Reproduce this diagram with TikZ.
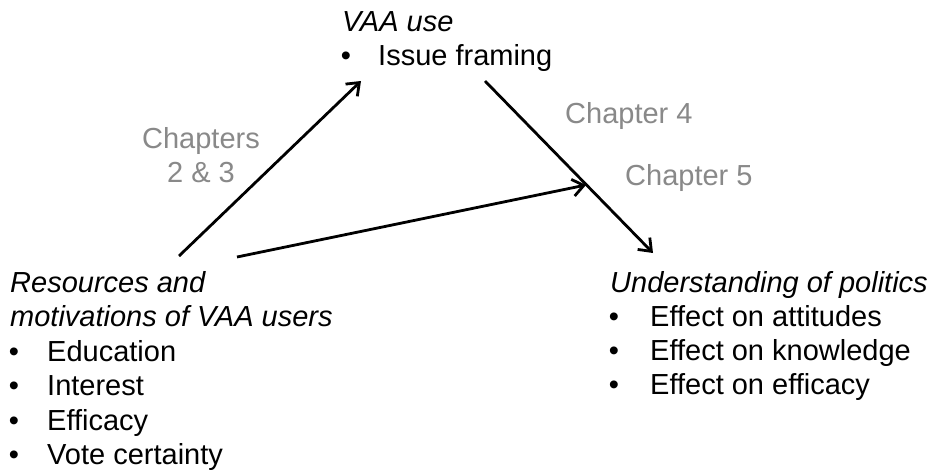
\documentclass[tikz,border=0pt]{standalone}
\usepackage{fontspec}
\setmainfont{Liberation Sans}
\usetikzlibrary{arrows.meta}
\definecolor{chapgray}{RGB}{137,137,137}
\begin{document}
\begin{tikzpicture}[x=1pt,y=-1pt,
  txt/.style={anchor=base west, inner sep=0pt, font=\fontsize{29}{34}\selectfont},
  head/.style={txt, font=\fontsize{29}{34}\selectfont\itshape},
  bul/.style={anchor=base, inner sep=0pt, font=\fontsize{29}{34}\selectfont},
  chap/.style={inner sep=0pt, font=\fontsize{29}{34}\selectfont, text=chapgray},
  conn/.style={line width=2.8pt, -{Straight Barb[length=11pt,width=17pt,line width=2.8pt]}}]
\useasboundingbox[fill=white] (0,0) rectangle (940,475);

% top block
\node[head] (vaa) at (342,31) {VAA use};
\node[bul] (tb1) at (346,65) {•};
\node[txt] (issue) at (378,65) {Issue framing};

% left block
\node[head] (res1) at (10,292) {Resources and};
\node[head] (res2) at (10,326) {motivations of VAA users};
\node[bul] (lb1) at (14,361) {•};
\node[txt] (edu) at (47,361) {Education};
\node[bul] (lb2) at (14,395) {•};
\node[txt] (int) at (47,395) {Interest};
\node[bul] (lb3) at (14,430) {•};
\node[txt] (eff) at (47,430) {Efficacy};
\node[bul] (lb4) at (14,464) {•};
\node[txt] (vote) at (47,464) {Vote certainty};

% right block
\node[head] (und) at (610,292) {Understanding of politics};
\node[bul] (rb1) at (614,326) {•};
\node[txt] (att) at (650,326) {Effect on attitudes};
\node[bul] (rb2) at (614,360) {•};
\node[txt] (kno) at (650,360) {Effect on knowledge};
\node[bul] (rb3) at (614,394) {•};
\node[txt] (effi) at (650,394) {Effect on efficacy};

% chapter labels
\node[chap, anchor=base] (ch23a) at (201,148) {Chapters};
\node[chap, anchor=base] (ch23b) at (201,182) {2 \& 3};
\node[chap, anchor=base west] (ch4) at (565,123) {Chapter 4};
\node[chap, anchor=base west] (ch5) at (625,185) {Chapter 5};

% connectors
\coordinate (a1s) at (179,256);
\coordinate (a1e) at (361,81);
\coordinate (a2s) at (485,81);
\coordinate (a2e) at (653,253);
\coordinate (a3s) at (237,257);
\coordinate (a3e) at (586,185);

\draw[conn] (a1s) -- (a1e);
\draw[conn] (a2s) -- (a2e);
\draw[conn] (a3s) -- (a3e);
\end{tikzpicture}
\end{document}
